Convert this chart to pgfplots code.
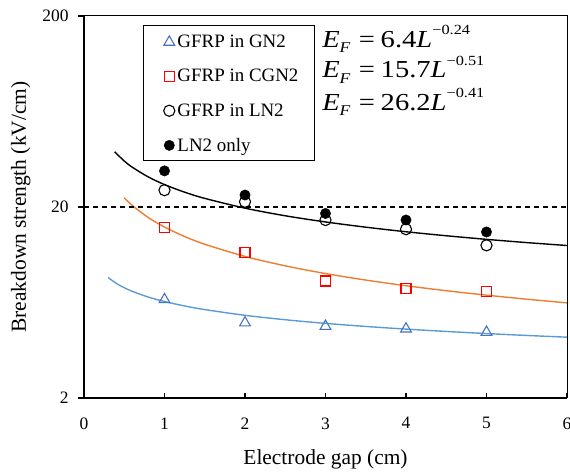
\documentclass[border=0pt]{standalone}
\usepackage{fontspec}
\setmainfont{Liberation Serif}
\usepackage{pgfplots}
\pgfplotsset{compat=1.18}
\usetikzlibrary{calc}
\definecolor{gnblue}{HTML}{4472C4}
\definecolor{lineblue}{HTML}{5B9BD5}
\definecolor{lineorange}{HTML}{ED7D31}
\newcommand{\eqline}[2]{\textit{E}\raisebox{-0.22em}{\fontsize{15}{15}\selectfont\itshape F}\hspace{0.3em}=\hspace{0.2em}#1\textit{L}\raisebox{0.5em}{\fontsize{14}{14}\selectfont −#2}}
\begin{document}
\begin{tikzpicture}
\begin{axis}[
  scale only axis, width=483bp, height=382bp,
  xmin=0, xmax=6, ymin=2, ymax=200,
  ymode=log,
  axis x line*=bottom, axis y line*=left,
  axis line style={line width=1.7bp},
  xtick={0,1,2,3,4,5,6},
  ytick=\empty,
  extra y ticks={2,20,200},
  extra y tick labels={2,20,200},
  extra y tick style={tick align=outside, major tick length=6bp, major tick style={line width=1.5bp}},
  minor ytick={4,6,8,10,12,14,16,18,40,60,80,100,120,140,160,180},
  tick align=inside,
  major tick length=5bp, minor tick length=3.5bp,
  major tick style={line width=1.3bp, black},
  minor tick style={line width=1.3bp, black},
  /pgf/number format/assume math mode=true,
  tick label style={font=\fontsize{17.5}{20}\selectfont},
  xticklabel style={yshift=-16bp},
  yticklabel style={xshift=-6bp},
  xlabel={Electrode gap (cm)},
  ylabel={Breakdown strength (kV/cm)},
  label style={font=\fontsize{21.5}{24}\selectfont},
  xlabel style={yshift=-14bp},
  ylabel style={yshift=5bp},
  clip=false,
  legend style={draw=none, fill=none, at={(rel axis cs:0.124,0.974)}, anchor=north west,
    font=\fontsize{19}{22}\selectfont, inner xsep=14bp, inner ysep=7bp, row sep=16.3bp},
  legend cell align=left,
  legend image code/.code={\path (0bp,-1bp) (17bp,1bp); \draw[mark repeat=2,mark phase=2,#1] plot coordinates {(0bp,0bp)(11bp,0bp)(17bp,0bp)};},
]
% fitted curves (values tabulated from the printed fits)
\addplot[lineblue, line width=1.4bp, smooth, forget plot] coordinates {
(0.3,8.544)(0.4,7.974)(0.5,7.558)(0.6,7.235)(0.8,6.752)(1,6.4)(1.25,6.066)(1.5,5.807)(2,5.419)(2.5,5.137)(3,4.917)(3.5,4.738)(4,4.589)(4.5,4.461)(5,4.349)(5.5,4.251)(6,4.163)};
\addplot[lineorange, line width=1.4bp, smooth, forget plot] coordinates {
(0.5,22.36)(0.6,20.37)(0.8,17.59)(1,15.7)(1.25,14.01)(1.5,12.77)(2,11.02)(2.5,9.839)(3,8.966)(3.5,8.288)(4,7.742)(4.5,7.291)(5,6.910)(5.5,6.582)(6,6.296)};
\addplot[black, line width=1.4bp, smooth, forget plot] coordinates {
(0.38,38.96)(0.5,34.81)(0.6,32.30)(0.8,28.71)(1,26.2)(1.25,23.91)(1.5,22.19)(2,19.72)(2.5,17.99)(3,16.70)(3.5,15.68)(4,14.84)(4.5,14.14)(5,13.54)(5.5,13.02)(6,12.57)};
\addplot[black, line width=1.2bp, dash pattern=on 5bp off 4bp, forget plot] coordinates {(0,20)(6,20)};
% data
\addplot[only marks, mark=triangle, mark size=6.2bp, gnblue, mark options={line width=1.1bp}] coordinates {
(1,6.55)(2,4.95)(3,4.75)(4,4.6)(5,4.42)};
\addlegendentry{GFRP in GN2}
\addplot[only marks, mark=square, mark size=5bp, red, mark options={line width=1.1bp}] coordinates {
(1,15.7)(2,11.5)(3,8.2)(4,7.5)(5,7.2)};
\addlegendentry{GFRP in CGN2}
\addplot[only marks, mark=o, mark size=5.6bp, black, mark options={line width=1.1bp}] coordinates {
(1,24.5)(2,21.3)(3,17.1)(4,15.3)(5,12.6)};
\addlegendentry{GFRP in LN2}
\addplot[only marks, mark=*, mark size=5.2bp, black] coordinates {
(1,30.9)(2,23.1)(3,18.5)(4,17.1)(5,14.8)};
\addlegendentry{LN2 only}
\draw[line width=1bp] (rel axis cs:0,1) -- (rel axis cs:1,1) -- (rel axis cs:1,0);
\draw[line width=1bp] (rel axis cs:0.124,0.974) rectangle (rel axis cs:0.478,0.623);
\begin{scope}[every node/.style={anchor=base west, font=\fontsize{24.5}{27}\selectfont, inner sep=0pt, xscale=1.17, transform shape}]
\node at (rel axis cs:0.4928,0.9188) {\eqline{6.4}{0.24}};
\node at (rel axis cs:0.4928,0.8377) {\eqline{15.7}{0.51}};
\node at (rel axis cs:0.4928,0.7539) {\eqline{26.2}{0.41}};
\end{scope}
\coordinate (sw) at (rel axis cs:0,0);
\coordinate (ne) at (rel axis cs:1,1);
\end{axis}
\pgfresetboundingbox
\path ($(sw)+(-84bp,-77bp)$) rectangle ($(ne)+(3bp,16bp)$);
\end{tikzpicture}
\end{document}
